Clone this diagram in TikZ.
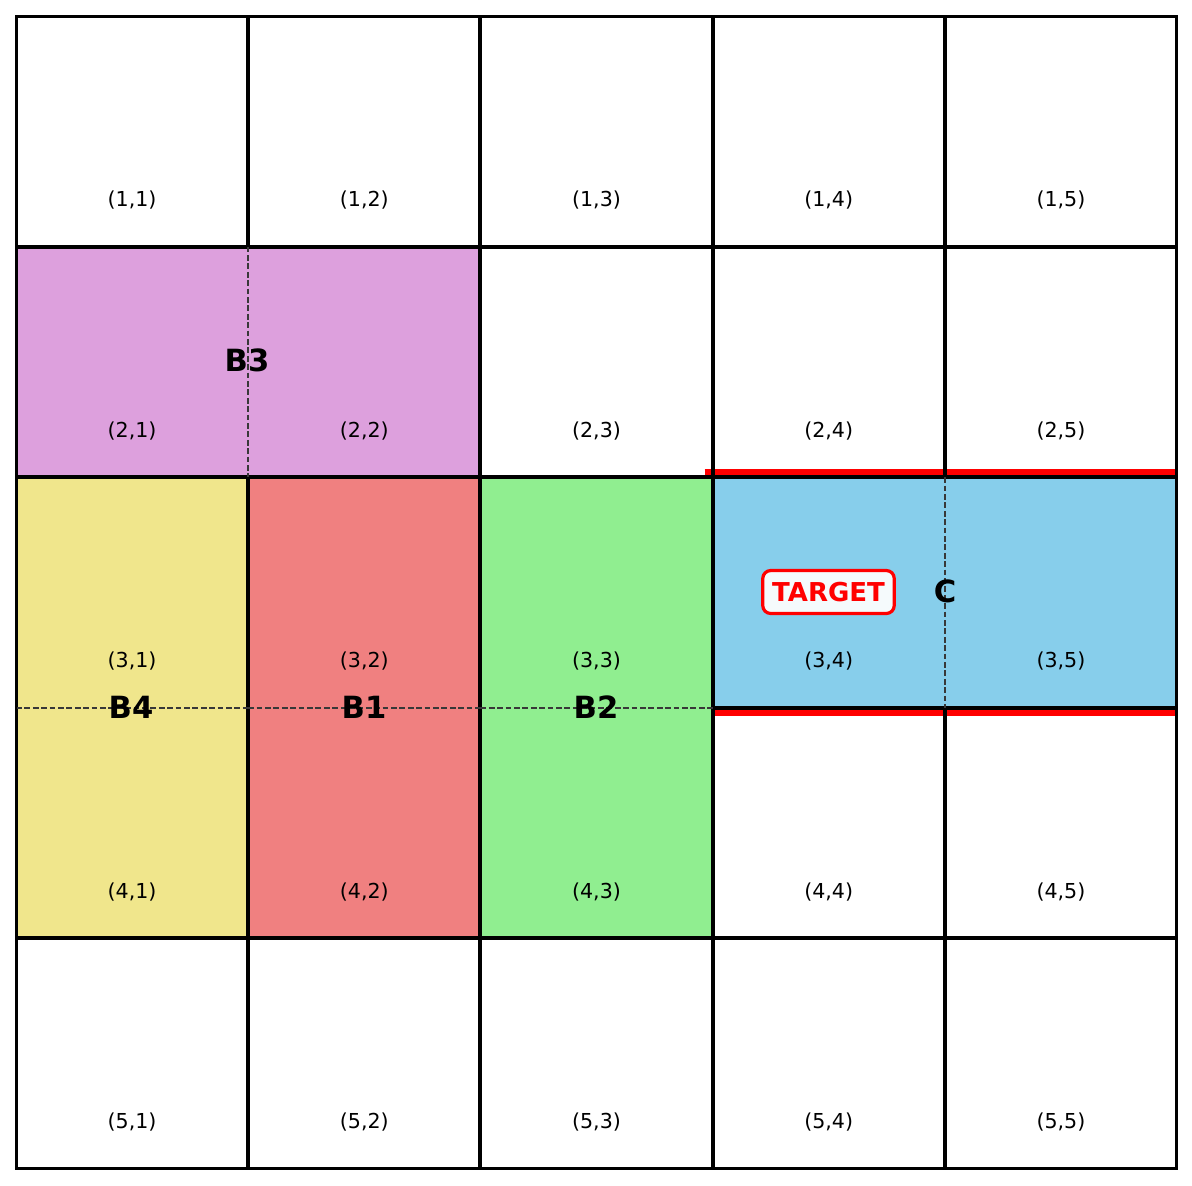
\documentclass[tikz,border=0pt]{standalone}
\usepackage{fontspec}
\usetikzlibrary{calc}
\setmainfont{DejaVu Sans}
\definecolor{cplum}{HTML}{DDA0DD}
\definecolor{ckhaki}{HTML}{F0E68C}
\definecolor{ccoral}{HTML}{F08080}
\definecolor{cgreen}{HTML}{90EE90}
\definecolor{csky}{HTML}{87CEEB}
\definecolor{cboxfill}{HTML}{F5FAFC}
\begin{document}
\begin{tikzpicture}[x=0.5pt,y=-0.5pt,
  gridline/.style={line width=2pt, draw=black},
  celllabel/.style={font=\fontsize{10.3}{12}\selectfont, inner sep=0pt},
  blocklabel/.style={font=\fontsize{15.3}{18}\selectfont\bfseries, inner sep=0pt},
  midline/.style={dash pattern=on 2.9pt off 1.3pt, line width=0.9pt, draw=black!78},
  redline/.style={draw=red, line width=3pt},
  targetbox/.style={draw=red, line width=1.6pt, rounded corners=4pt, fill=cboxfill,
    text=red, font=\fontsize{13}{15}\selectfont\bfseries, inner xsep=4.7pt, inner ysep=0pt,
    minimum height=21.5pt}]
\useasboundingbox (0,0) rectangle (1192,1185);
\fill[white] (0,0) rectangle (1192,1185);
% grid points
\foreach \r in {1,...,6}{
  \foreach \c in {1,...,6}{
    \coordinate (g\r-\c) at ({16+232.2*(\c-1)},{16+230.6*(\r-1)});
  }
}
% block fills
\fill[cplum]  (g2-1) rectangle (g3-3);
\fill[ckhaki] (g3-1) rectangle (g5-2);
\fill[ccoral] (g3-2) rectangle (g5-3);
\fill[cgreen] (g3-3) rectangle (g5-4);
\fill[csky]   (g3-4) rectangle (g4-6);
\begin{scope}
  \clip (g1-1) rectangle (g6-6);
  % red edges of target
  \draw[redline] ([xshift=-4pt,yshift=2.85pt]g3-4) -- ([xshift=5pt,yshift=2.85pt]g3-6);
  \draw[redline] ([yshift=-2.8pt]g4-4) -- ([xshift=5pt,yshift=-2.8pt]g4-6);
  % plain cells
  \foreach \r/\c in {1/1,1/2,1/3,1/4,1/5,2/3,2/4,2/5,4/4,4/5,5/1,5/2,5/3,5/4,5/5}{
    \pgfmathtruncatemacro{\rr}{\r+1}
    \pgfmathtruncatemacro{\cc}{\c+1}
    \draw[gridline] (g\r-\c) rectangle (g\rr-\cc);
  }
  % blocks
  \draw[gridline] (g2-1) rectangle (g3-3);
  \draw[gridline] (g3-1) rectangle (g5-2);
  \draw[gridline] (g3-2) rectangle (g5-3);
  \draw[gridline] (g3-3) rectangle (g5-4);
  \draw[gridline] (g3-4) rectangle (g4-6);
\end{scope}
% dashed mid lines of blocks
\draw[midline] (g2-2) -- (g3-2);
\draw[midline] ($(g3-1)!0.5!(g5-1)$) -- ($(g3-2)!0.5!(g5-2)$);
\draw[midline] ($(g3-2)!0.5!(g5-2)$) -- ($(g3-3)!0.5!(g5-3)$);
\draw[midline] ($(g3-3)!0.5!(g5-3)$) -- ($(g3-4)!0.5!(g5-4)$);
\draw[midline] (g3-5) -- (g4-5);
% outer border
\draw[line width=0.9pt] (g1-1) rectangle (g6-6);
% cell labels
\foreach \r in {1,...,5}{
  \foreach \c in {1,...,5}{
    \node[celllabel] (l\r\c) at ({16+232.2*(\c-0.5)},{16+230.6*(\r-1)+184}) {(\r,\c)};
  }
}
% block labels
\node[blocklabel] (b3) at (247,360) {B3};
\node[blocklabel] (b4) at (131,707.5) {B4};
\node[blocklabel] (b1) at (364,707.5) {B1};
\node[blocklabel] (b2) at (596,707.5) {B2};
\node[blocklabel] (cc) at (945,591) {C};
\node[targetbox] (target) at (828.5,592) {TARGET};
\end{tikzpicture}
\end{document}
